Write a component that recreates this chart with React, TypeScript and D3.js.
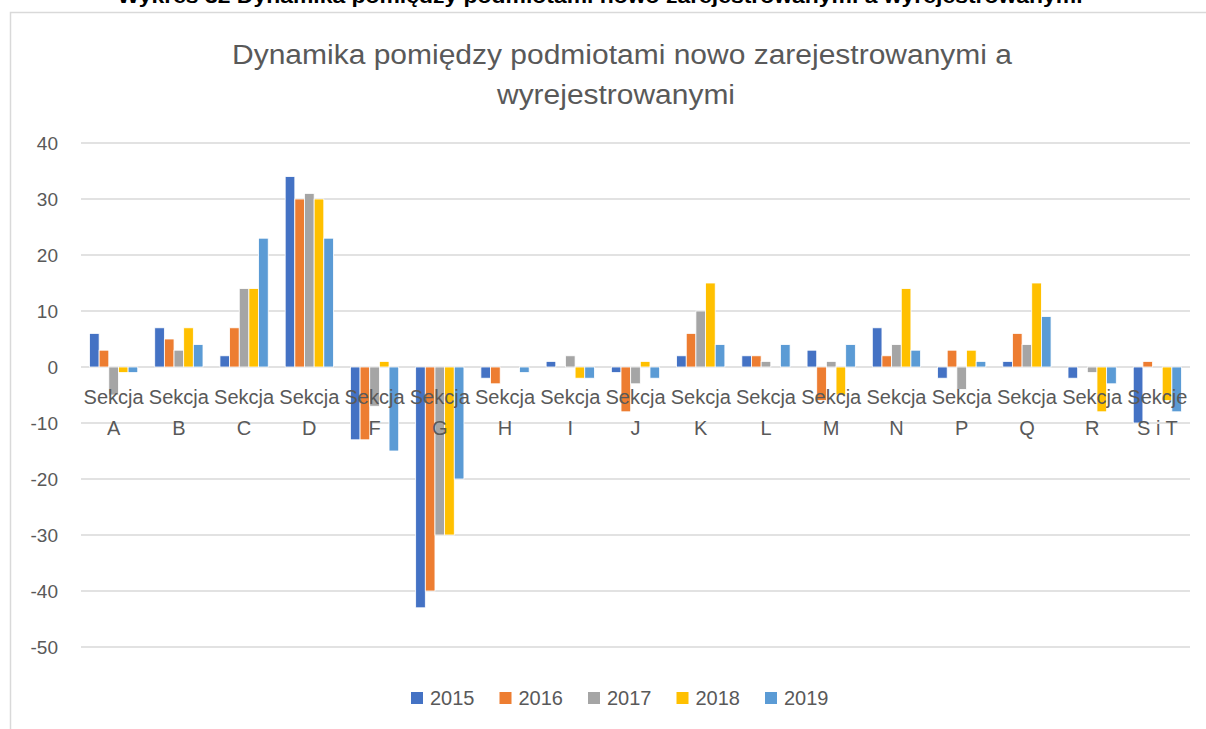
import React from 'react';
import * as d3 from 'd3';

const categories = ['A', 'B', 'C', 'D', 'F', 'G', 'H', 'I', 'J', 'K', 'L', 'M', 'N', 'P', 'Q', 'R', 'S i T'];
const years = ['2015', '2016', '2017', '2018', '2019'];
const v2015 = [6, 7, 2, 34, -13, -43, -2, 1, -1, 2, 2, 3, 7, -2, 1, -2, -10];
const v2016 = [3, 5, 7, 30, -13, -40, -3, 0, -8, 6, 2, -6, 2, 3, 6, 0, 1];
const v2017 = [-5, 3, 14, 31, -7, -30, 0, 2, -3, 10, 1, 1, 4, -4, 4, -1, 0];
const v2018 = [-1, 7, 14, 30, 1, -30, 0, -2, 1, 15, 0, -5, 14, 3, 15, -8, -6];
const v2019 = [-1, 4, 23, 23, -15, -20, -1, -2, -2, 4, 4, 4, 3, 1, 9, -3, -8];
const yTicks = [40, 30, 20, 10, 0, -10, -20, -30, -40, -50];
const colors = ['#4472C4', '#ED7D31', '#A5A5A5', '#FFC000', '#5B9BD5'];

const series = [v2015, v2016, v2017, v2018, v2019];
const font = '"Liberation Sans", Arial, sans-serif';
const textColor = '#595959';

export default function App() {
  const W = 1206, H = 729;
  const left = 81, right = 1190, top = 143, bottom = 647;

  const x0 = d3.scaleBand().domain(categories).range([left, right]).paddingInner(0.26).paddingOuter(0.13);
  const x1 = d3.scaleBand().domain(years).range([0, x0.bandwidth()]);
  const y = d3.scaleLinear().domain([40, -50]).range([top, bottom]);
  const step = x0.step();

  return (
    <svg width={W} height={H} style={{ position: 'absolute', left: 0, top: 0, background: '#fff' }}>
      <text x={600} y={3} textAnchor="middle" fontFamily={font} fontWeight="bold" fontSize={20} fill="#000"
        textLength={965} lengthAdjust="spacingAndGlyphs">
        Wykres 32 Dynamika pomiędzy podmiotami nowo zarejestrowanymi a wyrejestrowanymi
      </text>
      <path d={`M10.5,${H} L10.5,12.5 L${W},12.5`} fill="none" stroke="#d9d9d9" strokeWidth={1.5} />

      <text x={622} y={64} textAnchor="middle" fontFamily={font} fontSize={27} fill={textColor}
        textLength={780} lengthAdjust="spacingAndGlyphs">
        Dynamika pomiędzy podmiotami nowo zarejestrowanymi a
      </text>
      <text x={616} y={104} textAnchor="middle" fontFamily={font} fontSize={27} fill={textColor}
        textLength={238} lengthAdjust="spacingAndGlyphs">
        wyrejestrowanymi
      </text>

      {yTicks.map(t => (
        <g key={t}>
          <line x1={left} x2={right} y1={y(t)} y2={y(t)} stroke="#d9d9d9" strokeWidth={1.3} />
          <text x={58} y={y(t)} dy="0.35em" textAnchor="end" fontFamily={font} fontSize={19} fill={textColor}>{t}</text>
        </g>
      ))}

      {categories.map((c, i) => (
        <g key={c} transform={`translate(${x0(c)},0)`}>
          {series.map((s, j) => {
            const v = s[i];
            if (v === 0) return null;
            return (
              <rect key={j} x={x1(years[j])} width={x1.bandwidth()}
                y={Math.min(y(v), y(0))} height={Math.abs(y(v) - y(0))}
                fill={colors[j]} stroke="#fff" strokeWidth={0.8} />
            );
          })}
        </g>
      ))}

      {categories.map((c, i) => {
        const cx = (x0(c) as number) + x0.bandwidth() / 2;
        const last = i === categories.length - 1;
        return (
          <text key={c} textAnchor="middle" fontFamily={font} fontSize={20} fill={textColor}>
            <tspan x={cx} y={404}>{last ? 'Sekcje' : 'Sekcja'}</tspan>
            <tspan x={cx} y={435}>{c}</tspan>
          </text>
        );
      })}

      {years.map((yr, j) => {
        const lx = 411 + j * 88.5;
        return (
          <g key={yr}>
            <rect x={lx} y={692} width={12} height={12} fill={colors[j]} />
            <text x={lx + 19} y={698} dy="0.36em" fontFamily={font} fontSize={20} fill={textColor}>{yr}</text>
          </g>
        );
      })}
    </svg>
  );
}
